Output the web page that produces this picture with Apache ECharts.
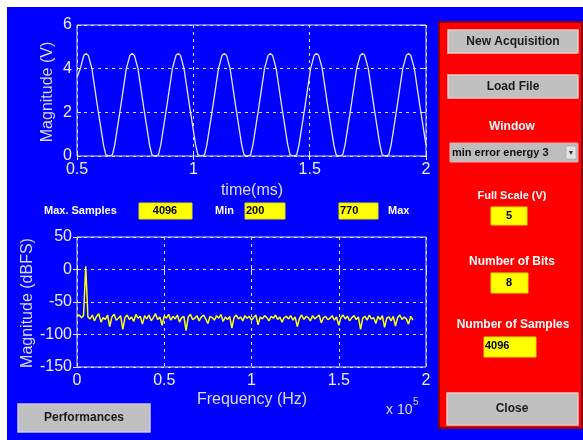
<!DOCTYPE html>
<html>
<head>
<meta charset="utf-8">
<script src="https://cdn.jsdelivr.net/npm/echarts@6/dist/echarts.min.js"></script>
<style>html,body{margin:0;padding:0;background:#fff;}#c{width:583px;height:440px;}</style>
</head>
<body>
<div id="c"></div>
<script>
// ---- Top plot: time signal (time in ms, magnitude in V) ----
var timeMs = [0.500,0.514,0.529,0.539,0.549,0.564,0.589,0.614,0.624,0.638,
0.652,0.662,0.687,0.712,0.727,0.737,0.747,0.762,0.787,0.812,0.822,0.836,
0.850,0.860,0.885,0.910,0.925,0.935,0.945,0.960,0.985,1.010,1.020,1.034,
1.048,1.058,1.083,1.108,1.123,1.133,1.143,1.158,1.183,1.208,1.218,1.232,
1.246,1.256,1.281,1.306,1.321,1.331,1.341,1.356,1.381,1.406,1.416,1.430,
1.444,1.454,1.479,1.504,1.519,1.529,1.539,1.554,1.579,1.604,1.614,1.628,
1.642,1.652,1.677,1.702,1.717,1.727,1.737,1.752,1.777,1.802,1.812,1.826,
1.840,1.850,1.875,1.900,1.915,1.925,1.935,1.950,1.975,2.000];
var voltage = [3.6,4.0,4.6,4.7,4.6,4.0,2.2,0.5,0.05,0,
0.05,0.5,2.2,4.0,4.6,4.7,4.6,4.0,2.2,0.5,0.05,0,
0.05,0.5,2.2,4.0,4.6,4.7,4.6,4.0,2.2,0.5,0.05,0,
0.05,0.5,2.2,4.0,4.6,4.7,4.6,4.0,2.2,0.5,0.05,0,
0.05,0.5,2.2,4.0,4.6,4.7,4.6,4.0,2.2,0.5,0.05,0,
0.05,0.5,2.2,4.0,4.6,4.7,4.6,4.0,2.2,0.5,0.05,0,
0.05,0.5,2.2,4.0,4.6,4.7,4.6,4.0,2.2,0.5,0.05,0,
0.05,0.5,2.2,4.0,4.6,4.7,4.6,4.0,2.2,0.5];

// ---- Bottom plot: spectrum (frequency bins in units of 1e5 Hz, magnitude in dBFS) ----
var freqStep = 0.0125;
var spectrumDb = [-72,-70,-74,-71,5,
-73,-76,-70,-79,-72,-68,-81,-74,-77,-70,
-88,-73,-69,-78,-75,-71,-92,-74,-70,-77,
-73,-80,-69,-75,-72,-84,-71,-76,-70,-79,
-74,-68,-77,-73,-86,-71,-75,-69,-78,-72,
-76,-70,-81,-74,-72,-94,-73,-69,-77,-75,
-71,-79,-73,-70,-76,-83,-72,-74,-78,-71,
-75,-69,-80,-73,-77,-72,-90,-74,-70,-76,
-73,-79,-71,-75,-72,-78,-74,-70,-85,-73,
-76,-71,-74,-79,-72,-75,-70,-77,-73,-81,
-74,-72,-76,-71,-78,-73,-88,-75,-70,-77,
-72,-74,-79,-71,-76,-73,-70,-82,-74,-72,
-77,-75,-71,-78,-73,-86,-74,-70,-76,-72,
-79,-74,-71,-77,-73,-92,-75,-72,-78,-70,
-76,-74,-83,-72,-77,-71,-89,-75,-73,-79,
-72,-87,-74,-70,-77,-73,-76,-84,-72,-78];

// ---- Tick labels / texts ----
var topXTicks = [0.5, 1, 1.5, 2];
var topYTicks = [0, 2, 4, 6];
var botXTicks = [0, 0.5, 1, 1.5, 2];
var botYTicks = [-150, -100, -50, 0, 50];
var uiTexts = {
  maxSamples: '4096', minVal: '200', maxVal: '770',
  windowName: 'min error energy 3', fullScale: '5', bits: '8', samples: '4096'
};

var sinePts = timeMs.map(function (t, i) { return [t, voltage[i]]; });
var specPts = spectrumDb.map(function (v, i) { return [i * freqStep, v]; });

var FONT = '"Liberation Sans", Arial, Helvetica, sans-serif';
var lineC = '#e2e2ff';
function mainX(grid, min, max, ticks) {
  return {
    gridIndex: grid, type: 'value', min: min, max: max, interval: 0.5,
    axisLine: { show: false },
    axisTick: { show: true, inside: true, length: 4, lineStyle: { color: lineC } },
    axisLabel: { color: '#eeeeff', fontSize: 16, fontFamily: FONT, margin: 6,
      formatter: function (v) { return ticks.indexOf(v) >= 0 ? String(v) : ''; } },
    splitLine: { show: true, lineStyle: { color: lineC, type: [3, 4], width: 1 } }
  };
}
function mainY(grid, min, max, interval, ticks) {
  return {
    gridIndex: grid, type: 'value', min: min, max: max, interval: interval,
    axisLine: { show: false },
    axisTick: { show: true, inside: true, length: 4, lineStyle: { color: lineC } },
    axisLabel: { color: '#eeeeff', fontSize: 16, fontFamily: FONT, margin: 5,
      formatter: function (v) { return ticks.indexOf(v) >= 0 ? String(v) : ''; } },
    splitLine: { show: true, lineStyle: { color: lineC, type: [3, 4], width: 1 } }
  };
}
function sideAxis(grid, min, max, interval, pos) {
  return {
    gridIndex: grid, type: 'value', min: min, max: max, interval: interval, position: pos,
    axisLine: { show: false }, axisLabel: { show: false }, splitLine: { show: false },
    axisTick: { show: true, inside: true, length: 4, lineStyle: { color: lineC } }
  };
}

function rect(x, y, w, h, fill, stroke, lw, z) {
  return { type: 'rect', z: z == null ? 5 : z, shape: { x: x, y: y, width: w, height: h },
    style: { fill: fill, stroke: stroke || null, lineWidth: lw || 0 } };
}
function txt(x, y, s, color, size, weight, align, rot) {
  var el = { type: 'text', z: 20, x: x, y: y,
    style: { text: s, fill: color, font: (weight || 'normal') + ' ' + size + 'px ' + FONT,
      textAlign: align || 'center', textVerticalAlign: 'middle' } };
  if (rot) { el.rotation = rot; }
  return el;
}

var graphics = [
  rect(0, 0, 583, 440, '#ffffff', null, 0, -20),
  rect(7, 7, 576, 433, '#0000ff', null, 0, -19),
  // right red panel
  rect(439, 22, 143, 406, '#ff0000', '#8a0010', 2, -18),
  // buttons
  rect(448, 30, 130, 23, '#c0c0c0', '#f0c8c8', 1.5),
  txt(513, 42, 'New Acquisition', '#1a1a1a', 12, 'bold'),
  rect(448, 75, 130, 23, '#c0c0c0', '#f0c8c8', 1.5),
  txt(513, 87, 'Load File', '#1a1a1a', 12, 'bold'),
  txt(512, 127, 'Window', '#ffffff', 12, 'bold'),
  rect(450, 143, 128, 19, '#bdbdbd', '#e8b0b0', 1),
  txt(452, 153, uiTexts.windowName, '#111111', 11, 'bold', 'left'),
  rect(566, 146, 10, 13, '#e4e4e4', '#999999', 0.5),
  txt(571, 153, '\u25BC', '#333333', 7),
  txt(512, 196, 'Full Scale (V)', '#ffffff', 11, 'bold'),
  rect(491, 207, 36, 18, '#ffff00', '#e0e000', 1),
  txt(509, 216, uiTexts.fullScale, '#000000', 11, 'bold'),
  txt(512, 262, 'Number of Bits', '#ffffff', 12, 'bold'),
  rect(491, 273, 37, 20, '#ffff00', '#e0e000', 1),
  txt(509, 283, uiTexts.bits, '#000000', 11, 'bold'),
  txt(513, 325, 'Number of Samples', '#ffffff', 12, 'bold'),
  rect(484, 337, 52, 20, '#ffff00', '#e0e000', 1),
  txt(485, 346, uiTexts.samples, '#000000', 11, 'bold', 'left'),
  rect(447, 393, 131, 32, '#c0c0c0', '#f0c8c8', 1.5),
  txt(512, 409, 'Close', '#1a1a1a', 12, 'bold'),
  // left panel widgets
  txt(44, 211, 'Max. Samples', '#ffffff', 11, 'bold', 'left'),
  rect(139, 203, 53, 16, '#ffff00', '#e0e000', 1),
  txt(165, 211, uiTexts.maxSamples, '#000000', 11, 'bold'),
  txt(215, 211, 'Min', '#ffffff', 11, 'bold', 'left'),
  rect(245, 203, 40, 16, '#ffff00', '#e0e000', 1),
  txt(246, 211, uiTexts.minVal, '#000000', 11, 'bold', 'left'),
  rect(339, 203, 39, 16, '#ffff00', '#e0e000', 1),
  txt(340, 211, uiTexts.maxVal, '#000000', 11, 'bold', 'left'),
  txt(388, 211, 'Max', '#ffffff', 11, 'bold', 'left'),
  rect(18, 404, 132, 28, '#c0c0c0', '#c8c8ff', 1.5),
  txt(84, 418, 'Performances', '#1a1a1a', 12, 'bold'),
  // axis titles
  txt(48, 92, 'Magnitude (V)', '#dcdcff', 16, 'normal', 'center', Math.PI / 2),
  txt(252, 191, 'time(ms)', '#dcdcff', 16),
  txt(28, 303, 'Magnitude (dBFS)', '#dcdcff', 16, 'normal', 'center', Math.PI / 2),
  txt(252, 400, 'Frequency (Hz)', '#dcdcff', 16),
  txt(386, 410, 'x 10', '#dcdcff', 14, 'normal', 'left'),
  txt(413, 402, '5', '#dcdcff', 10, 'normal', 'left')
];

var chart = echarts.init(document.getElementById('c'), null, { renderer: 'canvas' });
chart.setOption({
  backgroundColor: '#ffffff',
  animation: false,
  grid: [
    { left: 77, top: 25, width: 349, height: 131, show: true, borderColor: lineC, borderWidth: 1, backgroundColor: 'transparent' },
    { left: 77, top: 237, width: 349, height: 130, show: true, borderColor: lineC, borderWidth: 1, backgroundColor: 'transparent' }
  ],
  xAxis: [
    mainX(0, 0.5, 2, topXTicks),
    mainX(1, 0, 2, botXTicks),
    sideAxis(0, 0.5, 2, 0.5, 'top'),
    sideAxis(1, 0, 2, 0.5, 'top')
  ],
  yAxis: [
    mainY(0, 0, 6, 2, topYTicks),
    mainY(1, -150, 50, 50, botYTicks),
    sideAxis(0, 0, 6, 2, 'right'),
    sideAxis(1, -150, 50, 50, 'right')
  ],
  series: [
    { type: 'line', xAxisIndex: 0, yAxisIndex: 0, data: sinePts, showSymbol: false,
      lineStyle: { color: '#e6e6ff', width: 1.3 }, z: 3 },
    { type: 'line', xAxisIndex: 1, yAxisIndex: 1, data: specPts, showSymbol: false,
      lineStyle: { color: '#ffff00', width: 1.5 }, z: 3 }
  ],
  graphic: graphics
});
</script>
</body>
</html>
